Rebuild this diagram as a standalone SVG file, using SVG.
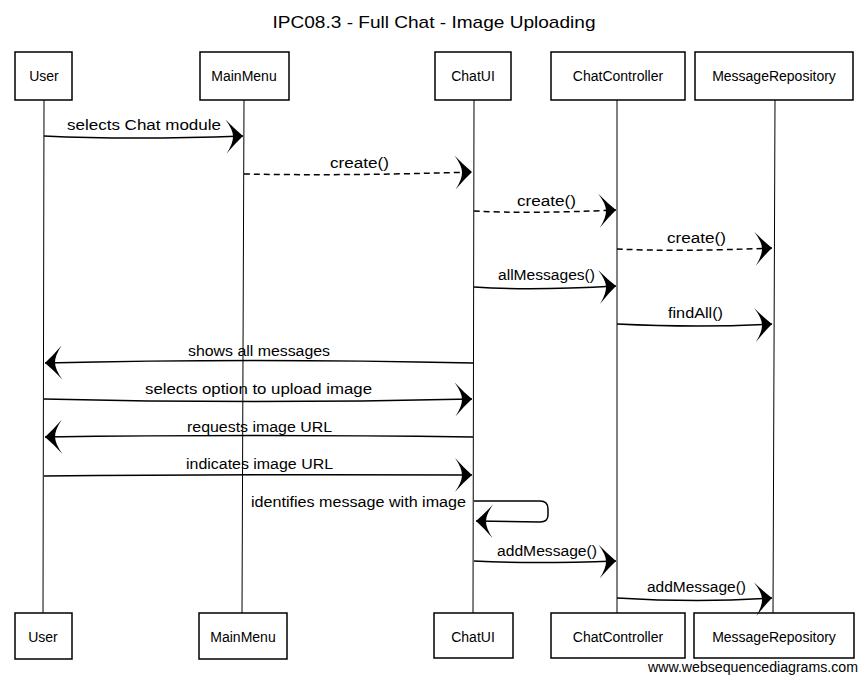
<svg xmlns="http://www.w3.org/2000/svg" width="868" height="683" viewBox="0 0 868 683">
<style>
  text { font-family: "Liberation Sans", Arial, sans-serif; fill: #000; }
  .lbl { font-size: 14px; }
  .title { font-size: 17px; }
  .pname { font-size: 14px; text-anchor: middle; }
  .box { fill: #fff; stroke: #000; stroke-width: 1.5; }
  .life { stroke: #000; stroke-width: 1; fill: none; }
  .msg { stroke: #000; stroke-width: 1.5; fill: none; marker-end: url(#head); }
  .dash { stroke-dasharray: 6 4; }
  .wm { font-size: 14px; }
</style>
<defs>
  <marker id="head" markerUnits="userSpaceOnUse" markerWidth="22" markerHeight="38" viewBox="-20 -19 22 38" refX="0" refY="0" orient="auto" overflow="visible">
    <path d="M0,0 Q-8,-7 -17,-17 Q-10,-7 -10,0 Q-10,7 -17,17 Q-8,7 0,0 Z" fill="#000"/>
  </marker>
</defs>
<rect width="868" height="683" fill="#fff"/>
<text class="title" x="434" y="28" text-anchor="middle" textLength="323" lengthAdjust="spacingAndGlyphs">IPC08.3 - Full Chat - Image Uploading</text>

<g id="lifelines">
  <line class="life" x1="44" y1="100" x2="43" y2="613"/>
  <line class="life" x1="244" y1="100" x2="242" y2="613"/>
  <line class="life" x1="474" y1="100" x2="473" y2="613"/>
  <line class="life" x1="617" y1="100" x2="617" y2="613"/>
  <line class="life" x1="775" y1="100" x2="773" y2="613"/>
</g>

<g id="User">
  <rect class="box" x="15" y="52" width="57" height="48"/>
  <text class="pname" x="44" y="81">User</text>
  <rect class="box" x="15" y="613" width="57" height="46"/>
  <text class="pname" x="43" y="642">User</text>
</g>
<g id="MainMenu">
  <rect class="box" x="200" y="52" width="89" height="48"/>
  <text class="pname" x="244" y="81">MainMenu</text>
  <rect class="box" x="199" y="613" width="88" height="46"/>
  <text class="pname" x="243" y="642">MainMenu</text>
</g>
<g id="ChatUI">
  <rect class="box" x="435" y="52" width="76" height="48"/>
  <text class="pname" x="473" y="81">ChatUI</text>
  <rect class="box" x="434" y="613" width="79" height="45"/>
  <text class="pname" x="473" y="642">ChatUI</text>
</g>
<g id="ChatController">
  <rect class="box" x="551" y="52" width="134" height="48"/>
  <text class="pname" x="618" y="81">ChatController</text>
  <rect class="box" x="551" y="613" width="134" height="45"/>
  <text class="pname" x="618" y="642">ChatController</text>
</g>
<g id="MessageRepository">
  <rect class="box" x="695" y="52" width="158" height="48"/>
  <text class="pname" x="774" y="81">MessageRepository</text>
  <rect class="box" x="694" y="613" width="160" height="45"/>
  <text class="pname" x="774" y="642">MessageRepository</text>
</g>

<g id="connectors">
  <path class="msg" d="M44,136 Q130,140 243,136"/>
  <path class="msg dash" d="M244,174 Q350,176 472,172"/>
  <path class="msg dash" d="M474,211 Q530,214 616,210"/>
  <path class="msg dash" d="M617,249 Q680,252 772,248"/>
  <path class="msg" d="M474,287 Q530,291 616,286"/>
  <path class="msg" d="M617,324 Q700,328 772,324"/>
  <path class="msg" d="M473,363 Q250,358 45,363"/>
  <path class="msg" d="M44,399 Q250,404 472,399"/>
  <path class="msg" d="M473,437 Q250,434 45,437"/>
  <path class="msg" d="M44,476 Q250,474 472,475"/>
  <path class="msg" d="M474,501 L540,501 Q548,501 548,509 L548,515 Q548,522 540,522 L476,521"/>
  <path class="msg" d="M474,561 Q530,564 616,561"/>
  <path class="msg" d="M617,598 Q700,603 772,598"/>
</g>

<g id="labels">
  <text class="lbl" x="67" y="130" textLength="154" lengthAdjust="spacingAndGlyphs">selects Chat module</text>
  <text class="lbl" x="330" y="168" textLength="59" lengthAdjust="spacingAndGlyphs">create()</text>
  <text class="lbl" x="517" y="206" textLength="59" lengthAdjust="spacingAndGlyphs">create()</text>
  <text class="lbl" x="667" y="243" textLength="59" lengthAdjust="spacingAndGlyphs">create()</text>
  <text class="lbl" x="498" y="280" textLength="97" lengthAdjust="spacingAndGlyphs">allMessages()</text>
  <text class="lbl" x="668" y="318" textLength="55" lengthAdjust="spacingAndGlyphs">findAll()</text>
  <text class="lbl" x="188" y="356" textLength="142" lengthAdjust="spacingAndGlyphs">shows all messages</text>
  <text class="lbl" x="145" y="394" textLength="227" lengthAdjust="spacingAndGlyphs">selects option to upload image</text>
  <text class="lbl" x="187" y="432" textLength="145" lengthAdjust="spacingAndGlyphs">requests image URL</text>
  <text class="lbl" x="186" y="469" textLength="147" lengthAdjust="spacingAndGlyphs">indicates image URL</text>
  <text class="lbl" x="251" y="507" textLength="215" lengthAdjust="spacingAndGlyphs">identifies message with image</text>
  <text class="lbl" x="497" y="556" textLength="100" lengthAdjust="spacingAndGlyphs">addMessage()</text>
  <text class="lbl" x="647" y="592" textLength="99" lengthAdjust="spacingAndGlyphs">addMessage()</text>
</g>
<text class="wm" x="648" y="672" textLength="210" lengthAdjust="spacingAndGlyphs">www.websequencediagrams.com</text>
</svg>
